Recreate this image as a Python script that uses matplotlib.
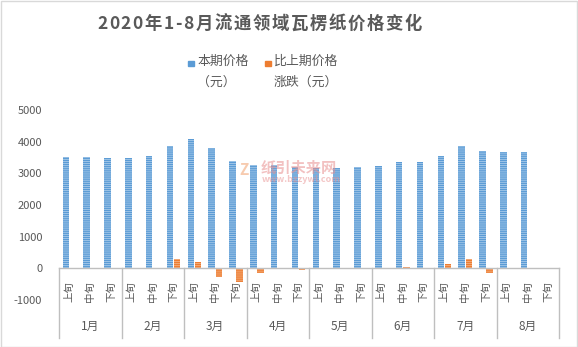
import matplotlib
matplotlib.use("Agg")
import matplotlib.pyplot as plt
import matplotlib.patches as mpatches
import numpy as np

plt.rcParams['font.family'] = ['Noto Sans CJK SC', 'DejaVu Sans']
plt.rcParams['hatch.linewidth'] = 0.6

# ---- data ----
months = ["1月", "2月", "3月", "4月", "5月", "6月", "7月", "8月"]
periods = ["上旬", "中旬", "下旬"]
price = [3500, 3500, 3490,
         3490, 3550, 3860,
         4080, 3810, 3400,
         3250, 3250, 3210,
         3160, 3160, 3210,
         3240, 3350, 3350,
         3540, 3860, 3700,
         3660, 3660, np.nan]
change = [0, 0, 0,
          0, 0, 280,
          200, -260, -420,
          -140, 0, -40,
          0, 0, 0,
          0, 40, 0,
          130, 300, -150,
          0, 0, np.nan]
series_names = ["本期价格\n（元）", "比上期价格\n涨跌（元）"]
yticks = [-1000, 0, 1000, 2000, 3000, 4000, 5000]
title = "2020年1-8月流通领域瓦楞纸价格变化"

BLUE = "#5B9BD5"
ORANGE = "#ED7D31"
TXT = "#595959"
GRID = "#BFBFBF"

W, H = 578, 347
fig = plt.figure(figsize=(W / 100, H / 100), dpi=100)


def fx(px):
    return px / W


def fy(py):
    return 1 - py / H


# plot area: x 59..559, y 110 (5000) .. 338 (-2200)
ax = fig.add_axes([fx(59), fy(338), fx(559) - fx(59), fy(110) - fy(338)])
ax.set_xlim(-0.5, 23.5)
ax.set_ylim(-2200, 5000)
for s in ax.spines.values():
    s.set_visible(False)

x = np.arange(len(price))
bw = 0.31
off = 0.17
ax.bar(x - off, price, width=bw, color=BLUE, edgecolor="#A9CBEA",
       linewidth=0, hatch="--------", zorder=2)
ch = np.array(change, dtype=float)
ch = np.where(ch == 0, np.nan, ch)
ax.bar(x + off, ch, width=bw, color=ORANGE, edgecolor="#F4B183",
       linewidth=0, hatch="--------", zorder=2)

ax.set_yticks(yticks)
ax.set_yticklabels([str(v) for v in yticks])
ax.tick_params(axis='y', length=0, pad=12, labelsize=8, labelcolor=TXT)
ax.set_xticks([])

# category axis with two-level labels
ax.plot([-0.5, 23.5], [0, 0], color=GRID, lw=1.0, zorder=3, clip_on=False)
for i in range(len(months) + 1):
    xb = i * 3 - 0.5
    ax.plot([xb, xb], [0, -2200], color=GRID, lw=1.0, zorder=3, clip_on=False)
for i in range(len(price)):
    ax.text(i, -720, periods[i % 3], rotation=90, ha="center", va="center",
            fontsize=7.5, color=TXT)
for m, name in enumerate(months):
    ax.text(m * 3 + 1, -1850, name, ha="center", va="center",
            fontsize=8.5, color=TXT)

# title, drawn glyph by glyph with extra tracking
renderer = fig.canvas.get_renderer()
t_left, t_right = 97, 422
glyphs = []
widths = []
for c in title:
    t = fig.text(0, fy(24), c, ha="left", va="center", fontsize=12.5,
                 fontweight="bold", color=TXT)
    glyphs.append(t)
    widths.append(t.get_window_extent(renderer).width)
gap = ((t_right - t_left) - sum(widths)) / (len(title) - 1)
cx = t_left
for t, w in zip(glyphs, widths):
    t.set_x(fx(cx))
    cx += w + gap

# legend
for (sx, tx), name, col in zip([(188, 197), (265, 274)], series_names,
                               [BLUE, ORANGE]):
    fig.patches.append(mpatches.Rectangle((fx(sx), fy(66)), fx(5.5), 5.5 / H,
                                          transform=fig.transFigure,
                                          color=col))
    l1, l2 = name.split("\n")
    fig.text(fx(tx), fy(61.5), l1, ha="left", va="center", fontsize=9.3,
             color=TXT)
    fig.text(fx(tx), fy(82.5), l2, ha="left", va="center", fontsize=9.3,
             color=TXT)

# site watermark
fig.text(fx(244), fy(170), "Z", ha="center", va="center", fontsize=11,
         fontweight="bold", style="italic", color="#F2A97A", alpha=0.6)
fig.text(fx(261), fy(168), "纸引未来网", ha="left", va="center", fontsize=11,
         fontweight="bold", color="#E88E8E", alpha=0.55)
fig.text(fx(262), fy(179.5), "www.bzzywl.com", ha="left", va="center",
         fontsize=6.5, fontweight="bold", color="#E88E8E", alpha=0.5)

# chart border
fig.patches.append(mpatches.Rectangle((0.5 / W, 0.5 / H), 1 - 1.5 / W,
                                      1 - 1.5 / H, transform=fig.transFigure,
                                      fill=False, edgecolor="#D9D9D9", lw=1))

fig.savefig("out.png", dpi=100, facecolor="white")
